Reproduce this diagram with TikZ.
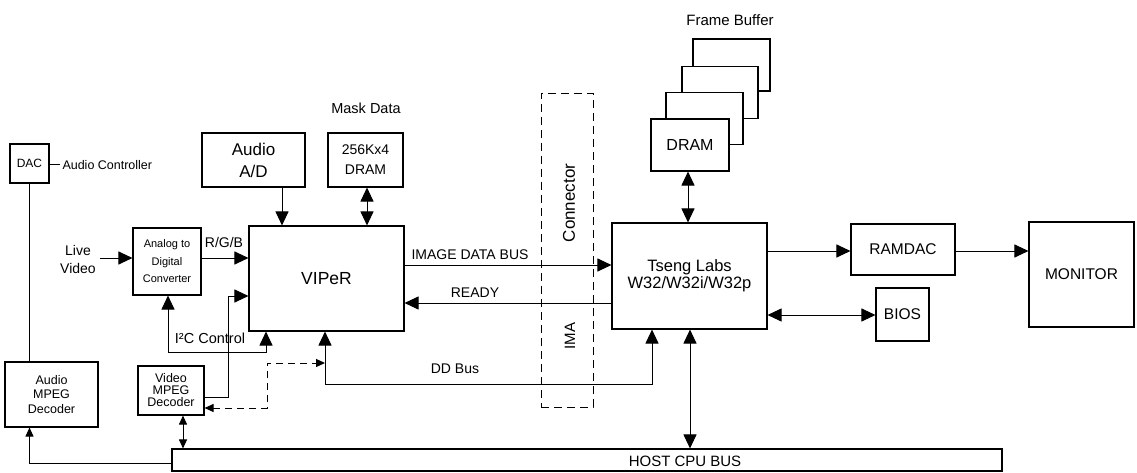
\documentclass[tikz,border=0pt]{standalone}
\usepackage{fontspec}
\setmainfont{Liberation Sans}
\usetikzlibrary{arrows.meta}
\begin{document}
\begin{tikzpicture}[x=1pt,y=-1pt, line width=1pt,
  box/.style={draw, line width=1.1pt, inner sep=0pt, align=center, fill=white},
  bt/.tip={Triangle[length=14pt,width=13pt]},
  st/.tip={Triangle[length=9pt,width=8pt]},
  lbl/.style={inner sep=0pt, align=center, font=\fontsize{14}{16}\selectfont}]
\useasboundingbox (0,0) rectangle (1137,473);

% connector (dashed frame)
\node[draw, dashed, dash pattern=on 8pt off 5pt, line width=0.9pt, minimum width=52pt, minimum height=314pt, inner sep=0pt] (conn) at (567,250) {};
\node[lbl, rotate=90, font=\fontsize{17}{19}\selectfont] (connlbl) at (569,203) {Connector};
\node[lbl, rotate=90, font=\fontsize{15}{17}\selectfont] (imalbl) at (570,336) {IMA};

% boxes
\node[box, minimum width=39pt, minimum height=39pt, font=\fontsize{12}{14}\selectfont] (dac) at (29.5,163.5) {DAC};
\node[lbl, inner sep=2pt, anchor=west, font=\fontsize{12.5}{14}\selectfont] (actl) at (60,165) {Audio Controller};
\node[box, minimum width=93pt, minimum height=65pt, font=\fontsize{12.5}{14.5}\selectfont] (amp) at (51.5,394.5) {Audio\\MPEG\\Decoder};
\node[box, minimum width=830pt, minimum height=22pt] (bus) at (587,460) {};
\node[lbl, font=\fontsize{15}{17}\selectfont] (buslbl) at (685,461) {HOST CPU BUS};
\node[box, minimum width=68pt, minimum height=67pt, font=\fontsize{11}{17.5}\selectfont] (adc) at (167,261.5) {Analog to\\Digital\\Converter};
\node[lbl, font=\fontsize{14}{18}\selectfont] (live) at (78,259) {Live\\Video};
\node[box, minimum width=155pt, minimum height=105pt, font=\fontsize{17.5}{20}\selectfont] (viper) at (326.5,278.5) {VIPeR};
\node[box, minimum width=103pt, minimum height=54pt, font=\fontsize{17}{22}\selectfont] (aad) at (253.5,160) {Audio\\A/D};
\node[box, minimum width=75pt, minimum height=54pt, font=\fontsize{14}{20}\selectfont] (mdram) at (365.5,160) {256Kx4\\DRAM};
\node[lbl, font=\fontsize{14.5}{16}\selectfont] (masklbl) at (366,108) {Mask Data};
\node[box, minimum width=66pt, minimum height=49pt, font=\fontsize{12.5}{12}\selectfont] (vmpeg) at (171,390.5) {Video\\MPEG\\Decoder};
\node[box, minimum width=155pt, minimum height=106pt, font=\fontsize{16.5}{17}\selectfont] (tseng) at (689.5,276) {Tseng Labs\\W32/W32i/W32p};
\node[box, minimum width=77pt, minimum height=52pt] (fb3) at (731.5,65) {};
\node[box, minimum width=76pt, minimum height=52pt] (fb2) at (720,92.5) {};
\node[box, minimum width=77pt, minimum height=52pt] (fb1) at (704.5,118.5) {};
\node[box, minimum width=78pt, minimum height=52pt, font=\fontsize{16}{18}\selectfont] (fdram) at (690,145) {DRAM};
\node[lbl, font=\fontsize{15}{17}\selectfont] (fblbl) at (730,20) {Frame Buffer};
\node[box, minimum width=104pt, minimum height=51pt, font=\fontsize{15.5}{17}\selectfont] (ramdac) at (903,249.5) {RAMDAC};
\node[box, minimum width=105pt, minimum height=105pt, font=\fontsize{15.5}{17}\selectfont] (monitor) at (1081.5,274.5) {MONITOR};
\node[box, minimum width=53pt, minimum height=53pt, font=\fontsize{15.5}{17}\selectfont] (bios) at (902.5,314.5) {BIOS};

% labels
\node[lbl] (rgb) at (224,242) {R/G/B};
\node[lbl] (idb) at (470,255) {IMAGE DATA BUS};
\node[lbl] (ready) at (475,293) {READY};
\node[lbl, font=\fontsize{14.5}{16}\selectfont] (i2c) at (210,338) {I²C Control};
\node[lbl] (dd) at (455,369) {DD Bus};

% connectors
\coordinate (lvs) at (100,258);
\coordinate (ddv) at (325,363);
\draw (dac.east |- actl.west) -- (actl.west);
\draw (dac.south) -- (dac.south |- amp.north);
\draw[-st] (bus.west |- 0,463) -- (dac.south |- 0,463) -- (dac.south |- amp.south);
\draw[-bt] (lvs) -- (adc.west |- lvs);
\draw[-bt] (adc.east |- 0,258) -- (viper.west |- 0,258);
\draw[-bt] (aad.south -| 282,0) -- (viper.north -| 282,0);
\draw[bt-bt] (mdram.south -| 367,0) -- (viper.north -| 367,0);
\draw[-bt] (vmpeg.east |- 0,397) -- (228,397) -- (228,296) -- (viper.west |- 0,296);
\draw[bt-bt] (adc.south -| 168,0) -- (168,352) -- (266,352) -- (viper.south -| 266,0);
\draw[bt-bt] (viper.south -| 325,0) -- (325,384) -- (652,384) -- (tseng.south -| 652,0);
\draw[st-st, dashed, dash pattern=on 7pt off 5pt] (vmpeg.east |- 0,408) -- (267,408) -- (267,363) -- (ddv);
\draw[st-st] (vmpeg.south -| 183,0) -- (bus.north -| 183,0);
\draw[-bt] (viper.east |- 0,265) -- (tseng.west |- 0,265);
\draw[-bt] (tseng.west |- 0,303) -- (viper.east |- 0,303);
\draw[bt-bt] (fdram.south -| 688,0) -- (tseng.north -| 688,0);
\draw[-bt] (tseng.east |- 0,251) -- (ramdac.west |- 0,251);
\draw[-bt] (ramdac.east |- 0,251) -- (monitor.west |- 0,251);
\draw[bt-bt] (tseng.east |- 0,315) -- (bios.west |- 0,315);
\draw[bt-bt] (tseng.south -| 690,0) -- (bus.north -| 690,0);
\end{tikzpicture}
\end{document}
